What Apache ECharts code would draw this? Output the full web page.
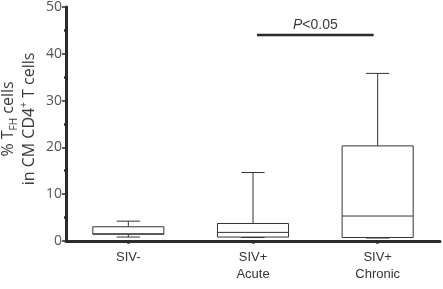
<!DOCTYPE html>
<html lang="en">
<head>
<meta charset="UTF-8">
<title>TFH boxplot</title>
<script src="https://cdn.jsdelivr.net/npm/echarts@6/dist/echarts.min.js"></script>
<style>
  html, body { margin: 0; padding: 0; background: #fff; }
  #main { width: 443px; height: 289px; }
</style>
</head>
<body>
<div id="main"></div>
<script>
// categories and box values (min, Q1, median, Q3, max)
var categories = ['SIV-', 'SIV+\nAcute', 'SIV+\nChronic'];
var mins = [0.8, 0.7, 0.6];
var q1s = [1.4, 0.8, 0.7];
var medians = [1.5, 1.8, 5.3];
var q3s = [3.0, 3.7, 20.3];
var maxs = [4.2, 14.6, 35.8];

// significance bar between Acute (1) and Chronic (2)
var sigFrom = 1;
var sigTo = 2;
var sigY = 44;
var sigText = 'P<0.05';

var boxData = categories.map(function (c, i) {
    return [i, mins[i], q1s[i], medians[i], q3s[i], maxs[i]];
});

var lineStyle = { stroke: '#333', lineWidth: 1 };

function renderBox(params, api) {
    var x = api.value(0);
    var band = api.size([1, 0])[0];
    var hw = band * 0.285;
    var cw = band * 0.093;
    var pMin = api.coord([x, api.value(1)]);
    var pQ1 = api.coord([x, api.value(2)]);
    var pMed = api.coord([x, api.value(3)]);
    var pQ3 = api.coord([x, api.value(4)]);
    var pMax = api.coord([x, api.value(5)]);
    var cx = pMed[0];
    return {
        type: 'group',
        children: [
            { type: 'line', shape: { x1: cx, y1: pMax[1], x2: cx, y2: pQ3[1] }, style: lineStyle },
            { type: 'line', shape: { x1: cx - cw, y1: pMax[1], x2: cx + cw, y2: pMax[1] }, style: lineStyle },
            { type: 'line', shape: { x1: cx, y1: pMin[1], x2: cx, y2: pQ1[1] }, style: lineStyle },
            { type: 'line', shape: { x1: cx - cw, y1: pMin[1], x2: cx + cw, y2: pMin[1] }, style: lineStyle },
            { type: 'rect', shape: { x: cx - hw, y: pQ3[1], width: hw * 2, height: pQ1[1] - pQ3[1] },
              style: { fill: '#fff', stroke: '#333', lineWidth: 1 } },
            { type: 'line', shape: { x1: cx - hw, y1: pMed[1], x2: cx + hw, y2: pMed[1] }, style: lineStyle }
        ]
    };
}

function renderSig(params, api) {
    var a = api.coord([api.value(0), api.value(2)]);
    var b = api.coord([api.value(1), api.value(2)]);
    return {
        type: 'group',
        children: [
            { type: 'line', shape: { x1: a[0] + 4, y1: a[1], x2: b[0] - 4, y2: b[1] },
              style: { stroke: '#2b2b2b', lineWidth: 2.5 } },
            { type: 'text', x: (a[0] + b[0]) / 2, y: a[1] - 3,
              style: {
                  text: '{i|P}' + sigText.slice(1),
                  align: 'center', verticalAlign: 'bottom',
                  fontFamily: 'Liberation Sans', fontSize: 14, fill: '#3a3a3a',
                  rich: { i: { fontStyle: 'italic', fontFamily: 'Liberation Sans', fontSize: 14, fill: '#3a3a3a' } }
              } }
        ]
    };
}

var myChart = echarts.init(document.getElementById('main'));
var option = {
    animation: false,
    grid: { left: 66, right: 3, top: 4.7, bottom: 48.2, containLabel: false },
    xAxis: {
        type: 'category',
        data: categories,
        boundaryGap: true,
        axisLine: { lineStyle: { color: '#2b2b2b', width: 3 } },
        axisTick: { show: true, alignWithLabel: true, length: 3, lineStyle: { color: '#2b2b2b', width: 2.5 } },
        axisLabel: { color: '#333', fontSize: 13, lineHeight: 17, margin: 8, fontFamily: 'Liberation Sans' },
        splitLine: { show: false }
    },
    yAxis: {
        type: 'value',
        min: 0,
        max: 50,
        interval: 10,
        axisLine: { show: true, lineStyle: { color: '#2b2b2b', width: 3 } },
        axisTick: { show: true, length: 4, lineStyle: { color: '#2b2b2b', width: 1.5 } },
        minorTick: { show: true, splitNumber: 2, length: 2, lineStyle: { color: '#2b2b2b', width: 2.5 } },
        axisLabel: { color: '#555', fontSize: 14, margin: 4, fontFamily: 'Open Sans' },
        splitLine: { show: false }
    },
    graphic: [{
        type: 'text',
        x: 19,
        y: 119,
        rotation: Math.PI / 2,
        style: {
            text: '% T{sub|FH} cells\nin CM CD4{sup|+} T cells',
            align: 'center',
            verticalAlign: 'middle',
            fontFamily: 'Open Sans',
            fontSize: 16,
            lineHeight: 21,
            fill: '#3a3a3a',
            rich: {
                sub: { fontSize: 10, fontFamily: 'Open Sans', fill: '#3a3a3a', verticalAlign: 'bottom', lineHeight: 21 },
                sup: { fontSize: 10, fontFamily: 'Open Sans', fill: '#3a3a3a', verticalAlign: 'top', lineHeight: 21 }
            }
        }
    }],
    series: [
        {
            type: 'custom',
            renderItem: renderBox,
            data: boxData,
            encode: { x: 0, y: [1, 2, 3, 4, 5] },
            z: 3
        },
        {
            type: 'custom',
            renderItem: renderSig,
            data: [[sigFrom, sigTo, sigY]],
            encode: { x: [0, 1], y: 2 },
            z: 3
        }
    ]
};
myChart.setOption(option);
</script>
</body>
</html>
